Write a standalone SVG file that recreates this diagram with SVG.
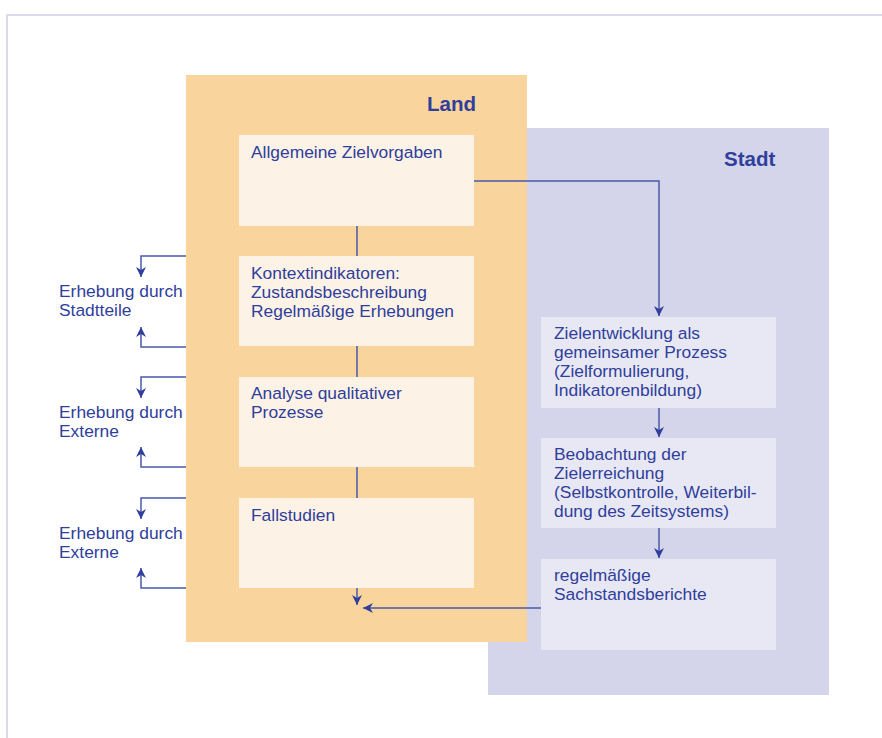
<svg xmlns="http://www.w3.org/2000/svg" width="882" height="738" viewBox="0 0 882 738">
<defs>
<style>
text{font-family:"Liberation Sans",Arial,sans-serif;font-size:17.4px;fill:#2f3f9b}
.title{font-weight:bold;font-size:20.5px}
.lbox{fill:#fdf2e6}
.sbox{fill:#e8e8f4}
.ln{fill:none;stroke:#4a5aaa;stroke-width:1.5}
</style>
<marker id="ah" viewBox="0 0 10 10" refX="10" refY="5" markerWidth="10" markerHeight="10" markerUnits="userSpaceOnUse" orient="auto">
<path d="M0,0 L10,5 L0,10 L3,5 Z" fill="#2f3f9b"/>
</marker>
</defs>
<rect width="882" height="738" fill="#ffffff"/>
<path d="M7,738 V15 H882" fill="none" stroke="#dcdaea" stroke-width="2"/>
<g id="stadt">
<rect x="488" y="128" width="341" height="567" fill="#d4d4ea"/>
<text class="title" x="724" y="166">Stadt</text>
</g>
<g id="land">
<rect x="186" y="75" width="341" height="567" fill="#f9d59d"/>
<text class="title" x="427" y="111">Land</text>
</g>
<g id="n1"><rect class="lbox" x="239" y="135" width="235" height="91"/>
<text x="251" y="158">Allgemeine Zielvorgaben</text></g>
<g id="n2"><rect class="lbox" x="239" y="256" width="235" height="90"/>
<text x="251" y="279">Kontextindikatoren:</text>
<text x="251" y="298">Zustandsbeschreibung</text>
<text x="251" y="317">Regelmäßige Erhebungen</text></g>
<g id="n3"><rect class="lbox" x="239" y="377" width="235" height="90"/>
<text x="251" y="399">Analyse qualitativer</text>
<text x="251" y="418">Prozesse</text></g>
<g id="n4"><rect class="lbox" x="239" y="498" width="235" height="90"/>
<text x="251" y="521">Fallstudien</text></g>
<g id="s1"><rect class="sbox" x="541" y="317" width="235" height="91"/>
<text x="554" y="339">Zielentwicklung als</text>
<text x="554" y="358">gemeinsamer Prozess</text>
<text x="554" y="377">(Zielformulierung,</text>
<text x="554" y="396">Indikatorenbildung)</text></g>
<g id="s2"><rect class="sbox" x="541" y="438" width="235" height="90"/>
<text x="554" y="460">Beobachtung der</text>
<text x="554" y="479">Zielerreichung</text>
<text x="554" y="498">(Selbstkontrolle, Weiterbil-</text>
<text x="554" y="517">dung des Zeitsystems)</text></g>
<g id="s3"><rect class="sbox" x="541" y="559" width="235" height="91"/>
<text x="554" y="581">regelmäßige</text>
<text x="554" y="600">Sachstandsberichte</text></g>
<g id="e1"><text x="59" y="297">Erhebung durch</text><text x="59" y="316">Stadtteile</text></g>
<g id="e2"><text x="59" y="418">Erhebung durch</text><text x="59" y="437">Externe</text></g>
<g id="e3"><text x="59" y="539">Erhebung durch</text><text x="59" y="558">Externe</text></g>
<g id="connectors">
<path class="ln" d="M357,226 V256 M357,346 V377 M357,467 V498"/>
<path class="ln" d="M357,588 V605" marker-end="url(#ah)"/>
<path class="ln" d="M541,608 H363" marker-end="url(#ah)"/>
<path class="ln" d="M474,181 H659 V316" marker-end="url(#ah)"/>
<path class="ln" d="M659,408 V437" marker-end="url(#ah)"/>
<path class="ln" d="M659,528 V558" marker-end="url(#ah)"/>
<path class="ln" d="M186,256 H141 V277" marker-end="url(#ah)"/>
<path class="ln" d="M186,347 H141 V327" marker-end="url(#ah)"/>
<path class="ln" d="M186,377 H141 V398" marker-end="url(#ah)"/>
<path class="ln" d="M186,467 H141 V447" marker-end="url(#ah)"/>
<path class="ln" d="M186,498 H141 V519" marker-end="url(#ah)"/>
<path class="ln" d="M186,588 H141 V568" marker-end="url(#ah)"/>
</g>
</svg>
